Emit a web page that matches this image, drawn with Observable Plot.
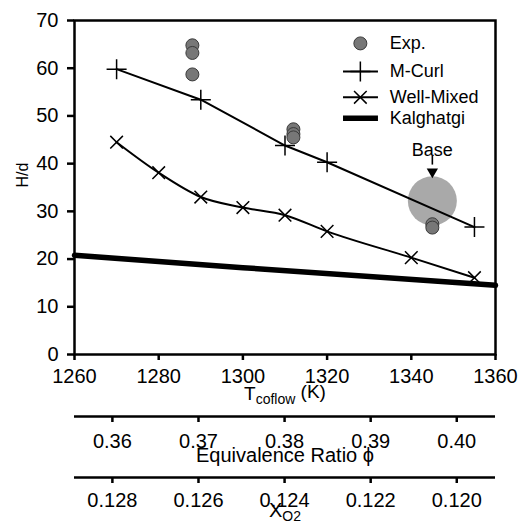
<!DOCTYPE html>
<html><head><meta charset="utf-8">
<script src="https://cdn.jsdelivr.net/npm/d3@7"></script>
<script src="https://cdn.jsdelivr.net/npm/@observablehq/plot@0.6"></script>
<style>body{margin:0;background:#fff} svg{display:block}</style>
</head><body><div id="chart"></div>
<script>
// Experimental data (Exp.)
const expT = [1288, 1288, 1288, 1312, 1312, 1312, 1345, 1345];
const expH = [64.8, 63.2, 58.7, 47.2, 46.2, 45.5, 27.3, 26.6];
// M-Curl model
const mcurlT = [1270, 1290, 1310, 1320, 1355];
const mcurlH = [59.8, 53.4, 43.8, 40.3, 26.7];
// Well-Mixed model
const wmT = [1270, 1280, 1290, 1300, 1310, 1320, 1340, 1355];
const wmH = [44.5, 38.1, 33.0, 30.8, 29.2, 25.8, 20.3, 16.1];
// Kalghatgi correlation
const kalT = [1260, 1300, 1360];
const kalH = [20.8, 18.2, 14.5];
// Base case highlight
const baseT = [1345];
const baseH = [32.2];
// Ticks
const xTicks = [1260, 1280, 1300, 1320, 1340, 1360];
const yTicks = [0, 10, 20, 30, 40, 50, 60, 70];
const phiTicks = [0.36, 0.37, 0.38, 0.39, 0.40];
const xo2Ticks = [0.128, 0.126, 0.124, 0.122, 0.120];
// Legend
const legendLabels = ["Exp.", "M-Curl", "Well-Mixed", "Kalghatgi"];
const legendRowY = [65.2, 59.3, 53.9, 49.5];

const phiToT = d3.scaleLinear().domain([0.36, 0.40]).range([1269, 1350.8]);
const xo2ToT = d3.scaleLinear().domain([0.128, 0.120]).range([1269, 1350.8]);

const rows = (xs, ys) => xs.map((x, i) => ({x, y: ys[i]}));
const expData = rows(expT, expH);
const mcurlData = rows(mcurlT, mcurlH);
const wmData = rows(wmT, wmH);
const kalData = rows(kalT, kalH);
const baseData = rows(baseT, baseH);

const legSymX = 1327.9, legX1 = 1323.9, legX2 = 1332.2, legTextX = 1334.9;
const legend = legendLabels.map((label, i) => ({label, y: legendRowY[i]}));

const font = "'Liberation Sans', Arial, Helvetica, sans-serif";
const TF = 20;

const chart = Plot.plot({
  width: 519, height: 522,
  marginTop: 20, marginRight: 24, marginBottom: 168, marginLeft: 74,
  style: {fontFamily: font, fontSize: "20px", color: "black", background: "white", overflow: "visible"},
  x: {domain: [1260, 1360]},
  y: {domain: [0, 70]},
  marks: [
    Plot.frame({stroke: "black", strokeWidth: 2.5}),
    Plot.axisY(yTicks, {tickSize: 7, tickPadding: 9, label: null, strokeWidth: 2.5, fontSize: TF}),
    Plot.axisX(xTicks, {tickSize: 6, tickPadding: 8, label: null, strokeWidth: 2.5, fontSize: TF, tickFormat: "d"}),
    Plot.text(["H/d"], {frameAnchor: "left", dx: -52, rotate: -90, fontSize: 16, text: d => d}),
    Plot.text(["Tcoflow (K)"], {frameAnchor: "bottom", dy: 45, fontSize: 19, text: d => d}),
    // secondary axis: equivalence ratio
    Plot.ruleY([0], {dy: 62, strokeWidth: 2.5}),
    Plot.axisX(phiTicks.map(phiToT), {anchor: "bottom", dy: 62, tickSize: 6, tickPadding: 11, strokeWidth: 2.5, fontSize: TF, label: null,
      tickFormat: d => d3.format(".2f")(phiToT.invert(d))}),
    Plot.text(["Equivalence Ratio ϕ"], {frameAnchor: "bottom", dy: 107, fontSize: 20, text: d => d}),
    // secondary axis: oxygen mole fraction
    Plot.ruleY([0], {dy: 123, strokeWidth: 2.5}),
    Plot.axisX(xo2Ticks.map(xo2ToT), {anchor: "bottom", dy: 123, tickSize: 6, tickPadding: 9, strokeWidth: 2.5, fontSize: TF, label: null,
      tickFormat: d => d3.format(".3f")(xo2ToT.invert(d))}),
    Plot.text(["XO2"], {frameAnchor: "bottom", dy: 162, fontSize: 20, text: d => d}),
    // data
    Plot.line(kalData, {x: "x", y: "y", stroke: "black", strokeWidth: 5.5}),
    Plot.dot(baseData, {x: "x", y: "y", r: 24.5, fill: "#a9a9a9", stroke: "none"}),
    Plot.ruleX(baseData, {x: "x", y1: d => d.y + 9.3, y2: d => d.y + 7.5, stroke: "black", strokeWidth: 1.6}),
    Plot.dot(baseData, {x: "x", y: d => d.y + 6.1, symbol: "triangle", r: 4.2, rotate: 180, fill: "black", stroke: "none"}),
    Plot.text(baseData, {x: "x", y: d => d.y + 10.7, text: () => "Base", fontSize: 18}),
    Plot.line(wmData, {x: "x", y: "y", stroke: "black", strokeWidth: 2, curve: "monotone-x"}),
    Plot.line(mcurlData, {x: "x", y: "y", stroke: "black", strokeWidth: 2}),
    Plot.dot(wmData, {x: "x", y: "y", symbol: "times", r: 5.8, stroke: "black", fill: "none", strokeWidth: 1.5}),
    Plot.dot(mcurlData, {x: "x", y: "y", symbol: "plus", r: 6.5, stroke: "black", fill: "none", strokeWidth: 1.5}),
    Plot.dot(expData, {x: "x", y: "y", r: 6.5, fill: "#777", stroke: "#3a3a3a", strokeWidth: 1}),
    // legend
    Plot.dot(legend.slice(0, 1), {x: () => legSymX, y: "y", r: 6.5, fill: "#777", stroke: "#3a3a3a", strokeWidth: 1}),
    Plot.ruleY(legend.slice(1, 3), {y: "y", x1: () => legX1, x2: () => legX2, stroke: "black", strokeWidth: 2}),
    Plot.dot(legend.slice(1, 2), {x: () => legSymX, y: "y", symbol: "plus", r: 6.5, stroke: "black", strokeWidth: 1.5}),
    Plot.dot(legend.slice(2, 3), {x: () => legSymX, y: "y", symbol: "times", r: 5.8, stroke: "black", strokeWidth: 1.5}),
    Plot.ruleY(legend.slice(3, 4), {y: "y", x1: () => legX1, x2: () => legX2, stroke: "black", strokeWidth: 5.5}),
    Plot.text(legend, {x: () => legTextX, y: "y", text: "label", textAnchor: "start", fontSize: 18})
  ]
});

// subscripts for axis titles
d3.select(chart).selectAll("text").each(function() {
  const t = this.textContent;
  const sel = d3.select(this);
  if (t === "Tcoflow (K)") {
    sel.text(null);
    sel.append("tspan").text("T");
    sel.append("tspan").attr("font-size", "14px").attr("dy", "0.3em").text("coflow");
    sel.append("tspan").attr("dy", "-0.3em").text(" (K)");
  } else if (t === "XO2") {
    sel.text(null);
    sel.append("tspan").text("X");
    sel.append("tspan").attr("font-size", "14px").attr("dy", "0.3em").text("O2");
  }
});

document.getElementById("chart").appendChild(chart);
</script>
</body></html>
